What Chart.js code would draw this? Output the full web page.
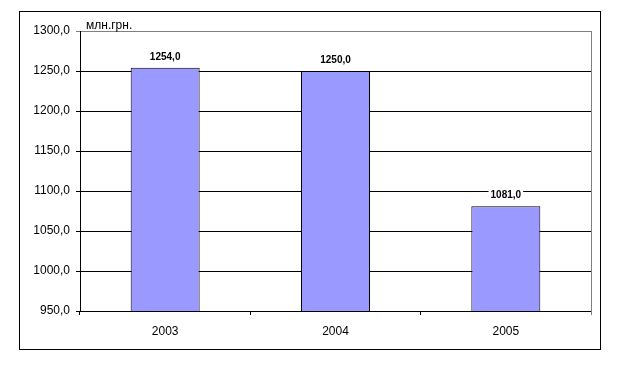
<!DOCTYPE html>
<html>
<head>
<meta charset="utf-8">
<script src="https://cdn.jsdelivr.net/npm/chart.js@4.4.1/dist/chart.umd.min.js"></script>
<style>
  html, body { margin: 0; padding: 0; background: #fff; }
  #wrap { width: 619px; height: 370px; }
</style>
</head>
<body>
<div id="wrap"><canvas id="c" width="619" height="370"></canvas></div>
<script>
// data
const years = ['2003', '2004', '2005'];
const revenue = [1254.0, 1250.0, 1081.0];
const yMin = 950;
const yMax = 1300;
const yStep = 50;
const unitLabel = 'млн.грн.';

const FONT = 'Arial, "Liberation Sans", sans-serif';

const fmt = (v) => v.toFixed(1).replace('.', ',');

// frame, unit caption, right plot border
const framePlugin = {
    id: 'frame',
    afterDraw(chart) {
        const { ctx, chartArea } = chart;
        ctx.save();
        ctx.strokeStyle = '#000';
        ctx.lineWidth = 1;
        ctx.strokeRect(19.5, 11.5, 581, 338);

        ctx.strokeStyle = '#808080';
        ctx.beginPath();
        ctx.moveTo(Math.round(chartArea.right) + 0.5, chartArea.top);
        ctx.lineTo(Math.round(chartArea.right) + 0.5, chartArea.bottom + 4);
        ctx.stroke();

        ctx.fillStyle = '#000';
        ctx.font = '12px ' + FONT;
        ctx.textAlign = 'left';
        ctx.textBaseline = 'alphabetic';
        ctx.fillText(unitLabel, 86, 29);
        ctx.restore();
    }
};

// value labels on white boxes above bars
const valueLabels = {
    id: 'valueLabels',
    afterDatasetsDraw(chart) {
        const { ctx } = chart;
        const meta = chart.getDatasetMeta(0);
        ctx.save();
        ctx.font = 'bold 10px ' + FONT;
        ctx.textAlign = 'center';
        ctx.textBaseline = 'middle';
        meta.data.forEach((bar, i) => {
            const txt = fmt(revenue[i]);
            const w = ctx.measureText(txt).width;
            const y = bar.y - 11;
            ctx.fillStyle = '#fff';
            ctx.fillRect(bar.x - w / 2 - 2, y - 6, w + 4, 12);
            ctx.fillStyle = '#000';
            ctx.fillText(txt, bar.x, y);
        });
        ctx.restore();
    }
};

new Chart(document.getElementById('c'), {
    type: 'bar',
    data: {
        labels: years,
        datasets: [{
            data: revenue,
            backgroundColor: '#9999FF',
            borderColor: '#000',
            borderWidth: 1,
            borderSkipped: 'bottom',
            categoryPercentage: 1,
            barPercentage: 0.405
        }]
    },
    options: {
        responsive: false,
        animation: false,
        events: [],
        layout: { padding: { top: 31, right: 28, left: 0, bottom: 0 } },
        plugins: {
            legend: { display: false },
            tooltip: { enabled: false }
        },
        scales: {
            x: {
                grid: {
                    offset: true,
                    drawOnChartArea: false,
                    drawTicks: true,
                    tickLength: 4,
                    color: '#000'
                },
                border: { color: '#000', width: 1 },
                ticks: {
                    color: '#000',
                    font: { family: FONT, size: 12 },
                    padding: 9
                },
                afterFit(scale) { scale.height = 59; }
            },
            y: {
                min: yMin,
                max: yMax,
                grid: {
                    color: (c) => (c.tick && c.tick.value === yMax ? '#808080' : '#000'),
                    tickLength: 4,
                    lineWidth: 1
                },
                border: { color: '#000', width: 1 },
                ticks: {
                    stepSize: yStep,
                    color: '#000',
                    font: { family: FONT, size: 12 },
                    padding: 6,
                    callback: (v) => fmt(v)
                },
                afterFit(scale) { scale.width = 80; }
            }
        }
    },
    plugins: [framePlugin, valueLabels]
});
</script>
</body>
</html>
